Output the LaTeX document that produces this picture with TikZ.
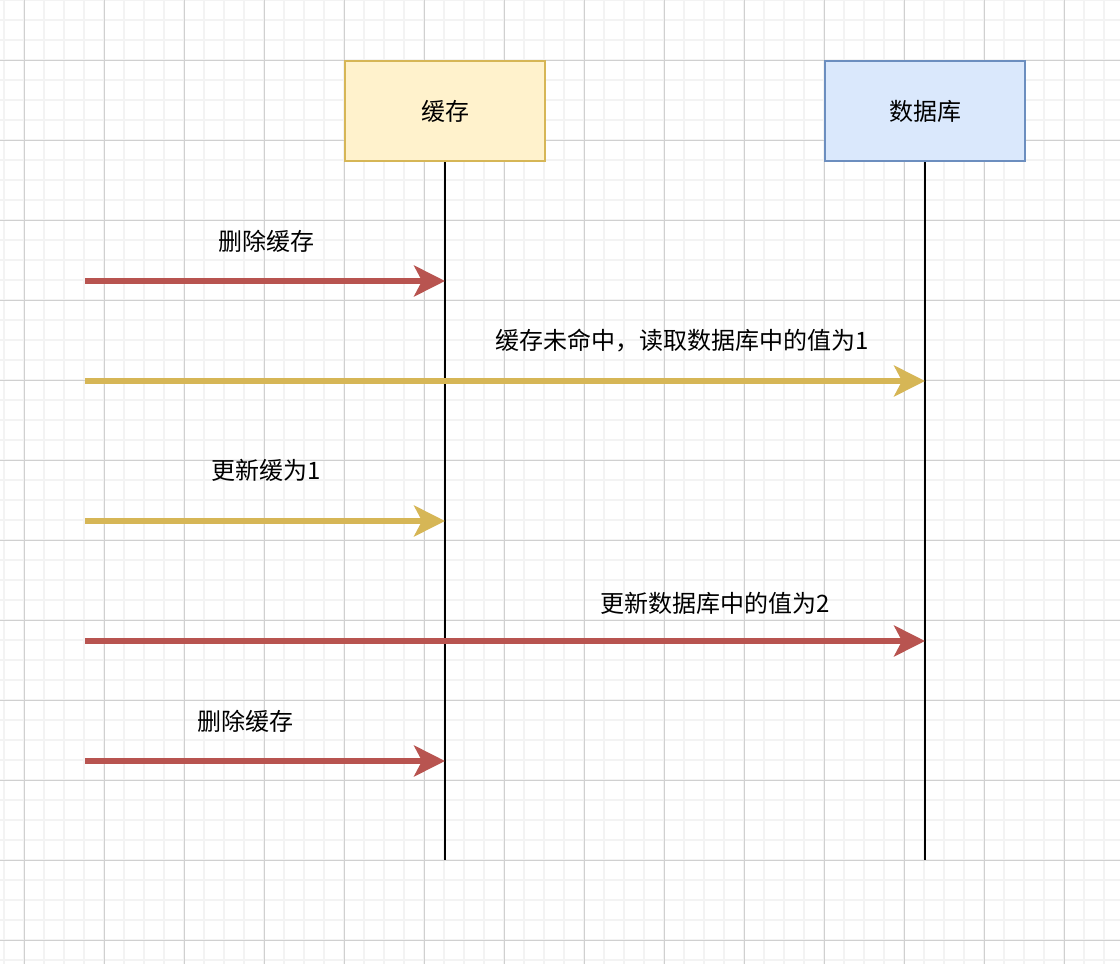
\documentclass[tikz,border=0pt]{standalone}
\usepackage{fontspec}
\newfontfamily\cjk{Noto Sans CJK SC}
\usetikzlibrary{arrows.meta}
\definecolor{redline}{HTML}{B85450}
\definecolor{yellowline}{HTML}{D6B656}
\definecolor{cachefill}{HTML}{FFF2CC}
\definecolor{dbfill}{HTML}{DAE8FC}
\definecolor{dbline}{HTML}{6C8EBF}
\definecolor{minorgrid}{HTML}{F3F3F3}
\definecolor{majorgrid}{HTML}{D0D0D0}
\tikzset{
  box/.style={draw, line width=1pt, minimum width=100pt, minimum height=50pt, font=\cjk\fontsize{12}{14}\selectfont},
  lifeline/.style={black, line width=1pt},
  msg/.style={line width=2.6pt, -{Stealth[length=15.5pt, width=15.5pt, inset=4pt]}},
  label/.style={font=\cjk\fontsize{12}{14}\selectfont, inner sep=0pt},
}
\begin{document}
\begin{tikzpicture}[x=0.5pt, y=-0.5pt]
    \useasboundingbox (0,0) rectangle (1120,964);
    % background grid
    \foreach \x in {4,24,...,1120} \draw[minorgrid, line width=1pt] (\x,0) -- (\x,964);
    \foreach \y in {0,20,...,964} \draw[minorgrid, line width=1pt] (0,\y) -- (1120,\y);
    \foreach \x in {24,104,...,1120} \draw[majorgrid, line width=0.5pt] (\x,0) -- (\x,964);
    \foreach \y in {60,140,...,964} \draw[majorgrid, line width=0.5pt] (0,\y) -- (1120,\y);

    % participants
    \node[box, draw=yellowline, fill=cachefill] (cache) at (445,111) {缓存};
    \node[box, draw=dbline, fill=dbfill] (db) at (925,111) {数据库};
    \coordinate (cacheEnd) at (445,860);
    \coordinate (dbEnd) at (925,860);
    \draw[lifeline] (cache.south) -- (cacheEnd);
    \draw[lifeline] (db.south) -- (dbEnd);

    % messages
    \coordinate (s1) at (85,281);
    \coordinate (s2) at (85,381);
    \coordinate (s3) at (85,521);
    \coordinate (s4) at (85,641);
    \coordinate (s5) at (85,761);
    \coordinate (e1) at (cache |- s1);
    \coordinate (e2) at (db |- s2);
    \coordinate (e3) at (cache |- s3);
    \coordinate (e4) at (db |- s4);
    \coordinate (e5) at (cache |- s5);
    \draw[msg, redline] (s1) -- (e1);
    \draw[msg, yellowline] (s2) -- (e2);
    \draw[msg, yellowline] (s3) -- (e3);
    \draw[msg, redline] (s4) -- (e4);
    \draw[msg, redline] (s5) -- (e5);

    \node[label] (l1) at (266,241) {删除缓存};
    \node[label] (l2) at (682,341) {缓存未命中，读取数据库中的值为1};
    \node[label] (l3) at (266,470) {更新缓为1};
    \node[label] (l4) at (715,603) {更新数据库中的值为2};
    \node[label] (l5) at (245,721) {删除缓存};
\end{tikzpicture}
\end{document}
